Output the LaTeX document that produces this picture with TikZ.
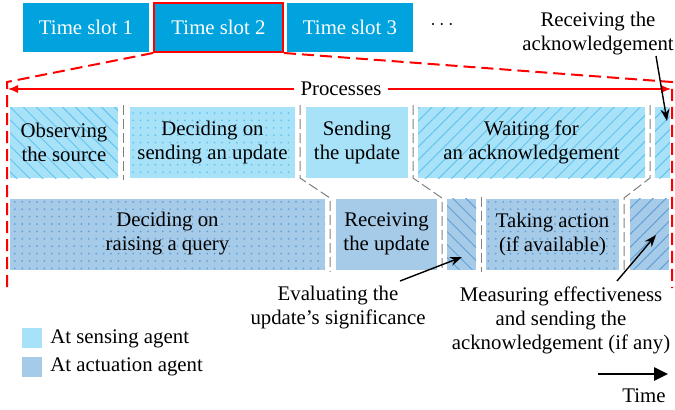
\documentclass[tikz,border=0pt]{standalone}
\usepackage{fontspec}
\setmainfont{Liberation Serif}
\usetikzlibrary{arrows.meta, patterns.meta}
\definecolor{slotblue}{RGB}{0,163,221}
\definecolor{sensing}{RGB}{168,226,248}
\definecolor{actuation}{RGB}{166,203,232}
\definecolor{sensehatch}{RGB}{100,196,238}
\definecolor{acthatch}{RGB}{100,160,215}

\begin{document}
\begin{tikzpicture}[x=0.5pt,y=-0.5pt,
  font=\fontsize{10.4}{12}\selectfont,
  slot/.style={fill=slotblue, text=white, minimum height=24.5pt, inner sep=0pt},
  proc/.style={inner sep=0pt, minimum height=35.5pt, align=center},
  sense/.style={proc, fill=sensing},
  act/.style={proc, fill=actuation},
  nwlines/.style={pattern={Lines[angle=-45,distance=4.6pt,line width=0.5pt]}},
  nelines/.style={pattern={Lines[angle=45,distance=4.6pt,line width=0.5pt]}},
  dotted bg/.style={pattern={Dots[distance=3.7pt,radius=0.5pt]}},
  sensepat/.style={proc, preaction={fill=sensing}, pattern color=sensehatch, #1},
  actpat/.style={proc, preaction={fill=actuation}, pattern color=acthatch, #1},
  reddash/.style={red, line width=1pt, dash pattern=on 6pt off 3pt},
  redarrow/.style={red, line width=0.6pt, -{Latex[length=5pt,width=4pt]}},
  gapline/.style={gray, line width=0.5pt, dash pattern=on 5pt off 2pt},
  pointer/.style={line width=0.7pt, -{Stealth[length=6pt,width=4.5pt]}},
  legbox/.style={minimum size=10pt, inner sep=0pt}]
\useasboundingbox (0,0) rectangle (675,409);

% time slots
\node[slot, minimum width=63pt] (slot1) at (86,27.5) {Time slot 1};
\node[slot, minimum width=64.5pt, draw=red, line width=1pt] (slot2) at (218.5,27.5) {Time slot 2};
\node[slot, minimum width=63pt] (slot3) at (350,27.5) {Time slot 3};
\node (more) at (442,25) {$\cdots$};

% zoom frame
\draw[reddash] (slot2.south west) -- (7,82) -- (7,288);
\draw[reddash] (slot2.south east) -- (672,82) -- (672,288);
\node[inner sep=3pt] (procs) at (341,89) {Processes};
\draw[redarrow] (procs.west) -- (8,89);
\draw[redarrow] (procs.east) -- (671,89);

% first row
\node[sensepat=nwlines, minimum width=54pt] (observe) at (64,142.5) {Observing\\the source};
\node[sensepat=dotted bg, minimum width=82.5pt] (decide) at (212.5,142.5) {Deciding on\\sending an update};
\node[sense, minimum width=51pt] (send) at (357,142.5) {Sending\\the update};
\node[sensepat=nelines, minimum width=113.5pt] (wait) at (531.5,142.5) {Waiting for\\an acknowledgement};
\node[sensepat=nelines, minimum width=7.5pt] (getack) at (662.5,142.5) {};

% second row
\node[actpat=dotted bg, minimum width=157.5pt] (query) at (167.5,234) {Deciding on\\raising a query};
\node[act, minimum width=50.5pt] (receive) at (386.5,234) {Receiving\\the update};
\node[actpat=nwlines, minimum width=14.5pt] (evaluate) at (461.5,234) {};
\node[actpat=dotted bg, minimum width=66.5pt] (action) at (552.5,234) {Taking action\\(if available)};
\node[actpat=nelines, minimum width=19.5pt] (measure) at (649.5,234) {};

% separators
\draw[gapline] (123,105) -- (123,180);
\draw[gapline] (300,105) -- (300,178) -- (330,198) -- (330,272);
\draw[gapline] (413,105) -- (413,178) -- (442,198) -- (442,272);
\draw[gapline] (650,105) -- (650,178) -- (624,198) -- (624,272);
\draw[gapline] (481,197) -- (481,272);

% labels
\node[align=center, inner sep=0pt] (getackt) at (598,34) {Receiving the\\acknowledgement};
\node[align=center, inner sep=0pt] (evaluatet) at (338,308) {Evaluating the\\update's significance};
\node[align=center, inner sep=0pt] (measuret) at (561,320) {Measuring effectiveness\\and sending the\\acknowledgement (if any)};
\coordinate (getackfrom) at (656,56);
\coordinate (getackto) at (667,121);
\coordinate (evaluatefrom) at (400,281);
\coordinate (evaluateto) at (462,257);
\coordinate (measurefrom) at (617,281);
\coordinate (measureto) at (656,235);
\draw[pointer] (getackfrom) -- (getackto);
\draw[pointer] (evaluatefrom) -- (evaluateto);
\draw[pointer] (measurefrom) -- (measureto);

% legend
\node[legbox, fill=sensing] (legsense) at (32,338) {};
\node[legbox, fill=actuation] (legact) at (32,367) {};
\node[anchor=west, inner sep=0pt] (legsenset) at (50,339) {At sensing agent};
\node[anchor=west, inner sep=0pt] (legactt) at (50,367) {At actuation agent};

% time
\coordinate (timefrom) at (598,374);
\coordinate (timeto) at (668,374);
\draw[line width=1.3pt, -{Triangle[length=7pt,width=6.5pt]}] (timefrom) -- (timeto);
\node (time) at (644,396) {Time};
\end{tikzpicture}
\end{document}
